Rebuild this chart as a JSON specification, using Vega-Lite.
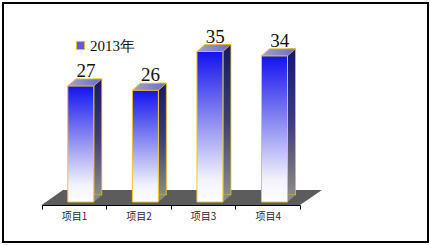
{
  "$schema": "https://vega.github.io/schema/vega-lite/v6.json",
  "autosize": "none",
  "width": 425,
  "height": 239,
  "padding": {"left": 3, "top": 3, "right": 2, "bottom": 3},
  "background": "#ffffff",
  "config": {
    "view": {"stroke": "#000000", "strokeWidth": 2},
    "font": "Liberation Serif"
  },
  "data": {
    "values": [
      {"item": "项目1", "value": 27, "series": "2013年"},
      {"item": "项目2", "value": 26, "series": "2013年"},
      {"item": "项目3", "value": 35, "series": "2013年"},
      {"item": "项目4", "value": 34, "series": "2013年"}
    ]
  },
  "encoding": {
    "x": {
      "field": "item",
      "type": "nominal",
      "sort": null,
      "scale": {"range": [38.7, 297], "paddingInner": 0, "paddingOuter": 0},
      "axis": {
        "title": null,
        "orient": "bottom",
        "offset": -37,
        "domainColor": "#000000",
        "domainWidth": 1,
        "tickBand": "extent",
        "tickColor": "#000000",
        "tickSize": 4,
        "labelAngle": 0,
        "labelFont": "Noto Sans CJK SC",
        "labelFontSize": 10,
        "labelColor": "#2a2a2a",
        "labelPadding": 2,
        "labelBaseline": "top"
      }
    },
    "y": {
      "field": "value",
      "type": "quantitative",
      "scale": {"domain": [0, 40], "range": [199, 27], "nice": false, "zero": true},
      "axis": null
    }
  },
  "layer": [
    {
      "data": {"values": [{"item": "项目1", "value": 0}]},
      "mark": {
        "type": "point",
        "filled": true,
        "size": 4,
        "shape": "M-32.3,3L226,3L248,-12L-11,-12Z",
        "fill": "#5c5c5c",
        "opacity": 1,
        "strokeWidth": 0
      }
    },
    {
      "mark": {
        "type": "square",
        "opacity": 0,
        "stroke": "#e8c020",
        "strokeWidth": 1
      },
      "encoding": {
        "color": {
          "field": "series",
          "type": "nominal",
          "scale": {"range": ["#5c5ce8"]},
          "legend": {
            "title": null,
            "orient": "none",
            "legendX": 70,
            "legendY": 35,
            "padding": 0,
            "symbolType": "square",
            "symbolSize": 64,
            "symbolOpacity": 1,
            "symbolStrokeColor": "#e8c020",
            "symbolStrokeWidth": 1,
            "labelFont": "Liberation Serif",
            "labelFontSize": 15,
            "labelColor": "#111111",
            "labelOffset": 2
          }
        }
      }
    },
    {
      "mark": {
        "type": "bar",
        "width": 8,
        "xOffset": 23.8,
        "yOffset": -7,
        "y2Offset": -7,
        "stroke": "#e8c020",
        "strokeWidth": 0.8,
        "fill": {
          "gradient": "linear",
          "x1": 0, "y1": 0, "x2": 0, "y2": 1,
          "stops": [
            {"offset": 0, "color": "#16166e"},
            {"offset": 0.5, "color": "#3d3d78"},
            {"offset": 1, "color": "#8a8a8a"}
          ]
        }
      }
    },
    {
      "mark": {
        "type": "point",
        "filled": true,
        "size": 4,
        "shape": "M19.8,0L19.8,-7L27.8,-7Z",
        "fill": "#8a8a8a",
        "opacity": 1,
        "strokeWidth": 0
      },
      "encoding": {"y": {"datum": 0, "type": "quantitative"}}
    },
    {
      "mark": {
        "type": "bar",
        "width": 26,
        "xOffset": 6.8,
        "stroke": "#eec82a",
        "strokeWidth": 1,
        "fill": {
          "gradient": "linear",
          "x1": 0, "y1": 0, "x2": 0, "y2": 1,
          "stops": [
            {"offset": 0, "color": "#1212f0"},
            {"offset": 0.45, "color": "#8a8af0"},
            {"offset": 0.85, "color": "#f2f2fc"},
            {"offset": 1, "color": "#ffffff"}
          ]
        }
      }
    },
    {
      "mark": {
        "type": "point",
        "filled": true,
        "size": 4,
        "shape": "M-6.2,0L19.8,0L27.8,-7L1.8,-7Z",
        "opacity": 1,
        "stroke": "#e8c020",
        "strokeWidth": 0.8,
        "fill": {
          "gradient": "linear",
          "x1": 0, "y1": 0, "x2": 1, "y2": 0,
          "stops": [
            {"offset": 0, "color": "#a4a4c4"},
            {"offset": 1, "color": "#6a6ad0"}
          ]
        }
      }
    },
    {
      "mark": {
        "type": "text",
        "baseline": "alphabetic",
        "align": "center",
        "xOffset": 12,
        "yOffset": -9,
        "font": "Liberation Serif",
        "fontSize": 19,
        "color": "#111111"
      },
      "encoding": {"text": {"field": "value", "type": "quantitative"}}
    }
  ]
}
